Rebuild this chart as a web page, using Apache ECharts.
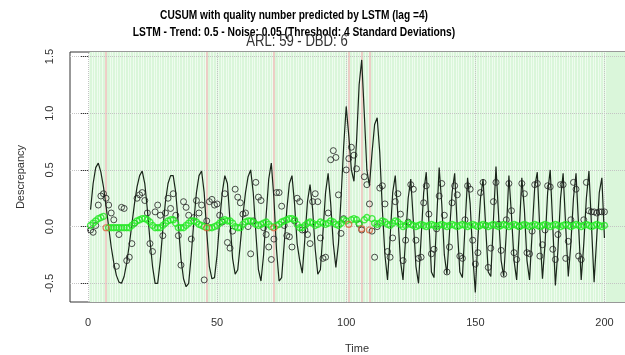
<!DOCTYPE html>
<html><head><meta charset="utf-8">
<script src="https://cdn.jsdelivr.net/npm/echarts@6/dist/echarts.min.js"></script>
<style>html,body{margin:0;padding:0;background:#fff}#c{width:625px;height:355px}</style>
</head><body><div id="c"></div>
<script>
// time index 1..200
const time = [];
for (let i = 1; i <= 200; i++) time.push(i);

// LSTM predicted discrepancy (black line)
const lstmLine = [
 0.15,0.38,0.52,0.56,0.48,0.35,0.18,0.00,-0.18,-0.32,
 -0.43,-0.49,-0.50,-0.44,-0.32,-0.16,0.02,0.20,0.35,0.45,
 0.49,0.38,0.15,-0.12,-0.35,-0.50,-0.50,-0.30,-0.02,0.22,
 0.38,0.45,0.45,0.30,0.02,-0.28,-0.46,-0.53,-0.50,-0.25,
 0.05,0.30,0.45,0.49,0.30,-0.05,-0.35,-0.46,-0.45,-0.25,
 0.05,0.30,0.45,0.38,0.05,-0.28,-0.42,-0.38,-0.15,0.10,
 0.30,0.44,0.50,0.30,-0.05,-0.38,-0.48,-0.25,0.10,0.42,
 0.56,0.25,-0.20,-0.48,-0.45,-0.15,0.15,0.38,0.45,0.20,
 -0.15,-0.30,-0.41,-0.10,0.22,0.37,0.15,-0.20,-0.42,-0.38,
 -0.05,0.30,0.47,0.20,-0.15,-0.36,-0.15,0.25,0.70,1.06,
 0.80,0.50,0.40,0.75,1.25,1.47,1.00,0.50,0.36,0.65,
 0.90,0.96,0.65,0.15,-0.25,-0.47,-0.10,0.30,0.45,0.10,
 -0.30,-0.47,-0.10,0.25,0.42,0.05,-0.35,-0.50,-0.10,0.30,
 0.48,0.05,-0.40,-0.45,0.05,0.52,0.20,-0.25,-0.42,-0.05,
 0.30,0.47,0.00,-0.40,-0.45,0.00,0.43,0.20,-0.25,-0.58,
 -0.10,0.25,0.42,0.00,-0.40,-0.44,0.05,0.53,0.10,-0.30,
 -0.44,-0.05,0.45,0.10,-0.30,-0.47,-0.05,0.43,0.15,-0.30,
 -0.47,-0.05,0.35,0.48,-0.05,-0.46,-0.15,0.30,0.50,0.00,
 -0.52,-0.20,0.25,0.47,0.00,-0.44,-0.15,0.25,0.47,0.00,
 -0.47,-0.15,0.25,0.49,0.00,-0.49,-0.10,0.30,0.43,-0.10
];

// observed quality discrepancy (black open circles)
const observed = [
 -0.03,-0.05,0.01,0.19,0.27,0.29,0.25,0.19,0.12,0.06,
 -0.35,-0.07,0.17,0.16,-0.30,-0.27,-0.15,0.03,0.25,0.28,
 0.30,0.23,0.12,-0.15,-0.22,0.13,0.19,0.10,-0.08,0.12,
 0.25,0.16,0.29,0.10,-0.08,-0.34,0.22,0.17,0.10,-0.11,
 0.08,0.23,0.12,0.19,-0.47,0.05,0.22,0.24,0.19,0.20,
 0.10,0.04,0.29,-0.14,-0.19,-0.04,0.33,0.26,0.21,0.11,
 0.12,0.00,-0.24,0.05,0.39,0.26,0.23,-0.01,-0.07,-0.18,
 -0.29,-0.11,0.30,0.30,0.18,0.01,-0.08,-0.09,-0.18,0.05,
 0.25,0.22,-0.03,-0.03,-0.07,-0.15,0.22,0.29,0.22,-0.10,
 -0.28,-0.27,0.12,0.59,0.67,0.61,0.28,-0.06,0.07,0.50,
 0.60,0.70,0.63,0.51,0.02,-0.03,0.44,0.37,0.20,-0.04,
 -0.27,0.00,0.34,0.36,0.20,-0.22,-0.27,-0.10,0.22,0.29,
 0.11,-0.30,-0.12,0.04,0.37,0.33,-0.12,-0.28,-0.27,0.21,
 0.36,0.11,-0.24,-0.20,-0.02,0.27,0.38,0.10,-0.40,-0.18,
 0.21,0.36,0.28,-0.26,-0.28,0.06,0.36,0.33,-0.12,-0.33,
 -0.23,0.30,0.39,0.01,-0.36,-0.19,0.22,0.39,0.02,-0.21,
 -0.42,0.06,0.38,0.14,-0.23,-0.29,0.00,0.38,0.29,-0.23,
 -0.24,-0.04,0.37,0.38,-0.26,-0.16,-0.03,0.36,0.35,-0.20,
 -0.29,-0.07,0.37,0.37,-0.28,-0.13,0.06,0.39,0.33,-0.26,
 -0.29,0.06,0.39,0.14,0.13,0.13,0.12,0.13,0.13,0.13
];

// CUSUM statistic, no alarm (green circles)
const cusumOk = [
 0.01,0.03,0.05,0.07,0.08,0.09,null,-0.01,-0.01,-0.01,
 -0.01,-0.01,-0.01,-0.01,-0.01,-0.01,0.01,0.03,0.05,0.06,
 0.07,0.07,0.06,0.04,0.01,-0.01,-0.01,-0.01,0.01,0.03,
 0.05,0.06,0.06,0.03,-0.01,-0.01,-0.01,0.01,0.03,0.05,
 0.05,0.04,0.02,0.01,0.00,null,-0.01,-0.01,0.00,0.01,
 0.03,0.05,0.06,0.05,0.05,0.03,0.00,-0.01,-0.01,0.02,
 0.04,0.05,0.05,0.04,0.02,0.01,0.02,0.03,0.04,0.02,
 0.00,null,0.01,0.02,0.04,0.05,0.06,0.07,0.07,0.06,
 0.02,-0.01,-0.01,0.01,0.03,0.04,0.03,0.01,0.02,0.04,
 0.03,0.02,0.03,0.05,0.04,0.02,0.01,0.03,0.06,0.05,
 null,0.06,0.07,0.06,0.03,null,0.06,0.08,null,0.07,
 0.03,0.02,0.03,0.05,0.04,0.02,0.01,0.03,0.05,0.04,
 0.02,0.00,0.01,0.03,0.02,0.01,0.00,0.01,0.02,0.01,
 0.00,0.01,0.02,0.01,0.00,0.01,0.02,0.01,0.00,0.01,
 0.02,0.01,0.00,0.01,0.02,0.01,0.00,0.01,0.02,0.01,
 0.00,0.01,0.02,0.01,0.00,0.01,0.02,0.01,0.00,0.01,
 0.02,0.01,0.00,0.01,0.02,0.01,0.00,0.01,0.02,0.01,
 0.00,0.01,0.02,0.01,0.00,0.01,0.02,0.01,0.00,0.01,
 0.02,0.01,0.00,0.01,0.02,0.01,0.00,0.01,0.02,0.01,
 0.00,0.01,0.02,0.01,0.00,0.01,0.02,0.01,0.00,0.01
];

// alarms (red lines / red circles)
const alarmTimes = [7, 46, 72, 101, 106, 109];
const alarmValues = [-0.01, -0.01, -0.01, 0.02, -0.02, -0.03];

const xTicks = [0, 50, 100, 150, 200];
const yTicks = [-0.5, 0, 0.5, 1, 1.5];

const titleLine1 = 'CUSUM with quality number predicted by LSTM (lag =4)';
const titleLine2 = 'LSTM - Trend: 0.5 - Noise: 0.05 (Threshold: 4 Standard Deviations)';
const titleLine3 = 'ARL: 59 - DBD: 6';

const chart = echarts.init(document.getElementById('c'), null, {renderer: 'canvas'});

const okTimes = time.filter(t => alarmTimes.indexOf(t) < 0);
const FONT = 'Liberation Sans, Arial, sans-serif';

const option = {
  animation: false,
  backgroundColor: '#ffffff',
  grid: {left: 70, top: 52, width: 571, height: 250, show: true, borderColor: '#333', borderWidth: 1, backgroundColor: 'transparent'},
  xAxis: {
    type: 'value', min: -6.96, max: 207.96,
    axisLine: {show: false}, splitLine: {show: false},
    axisTick: {show: true, customValues: xTicks, length: 6, lineStyle: {color: '#333'}},
    axisLabel: {customValues: xTicks, margin: 15, fontSize: 11, color: '#333', fontFamily: FONT}
  },
  yAxis: {
    type: 'value', min: -0.665, max: 1.54,
    axisLine: {show: false}, splitLine: {show: false},
    axisTick: {show: true, customValues: yTicks, length: 7, lineStyle: {color: '#333'}},
    axisLabel: {customValues: yTicks, rotate: 90, margin: 15, fontSize: 11, color: '#333',
      fontFamily: FONT, formatter: v => Number(v).toFixed(1)}
  },
  graphic: [
    {type: 'text', x: 294, y: 15, scaleX: 0.78, z: 100, style: {text: titleLine1, fontFamily: FONT, fontWeight: 'bold', fontSize: 13, fill: '#000', align: 'center', verticalAlign: 'middle'}},
    {type: 'text', x: 294, y: 32, scaleX: 0.79, z: 100, style: {text: titleLine2, fontFamily: FONT, fontWeight: 'bold', fontSize: 13, fill: '#000', align: 'center', verticalAlign: 'middle'}},
    {type: 'text', x: 297, y: 42, scaleX: 0.82, z: 100, style: {text: titleLine3, fontFamily: FONT, fontSize: 16, fill: '#333', align: 'center', verticalAlign: 'middle'}},
    {type: 'text', x: 357, y: 349, style: {text: 'Time', fontFamily: FONT, fontSize: 11, fill: '#333', align: 'center', verticalAlign: 'middle'}},
    {type: 'text', x: 21, y: 177, rotation: Math.PI / 2, style: {text: 'Descrepancy', fontFamily: FONT, fontSize: 11, fill: '#333', align: 'center', verticalAlign: 'middle'}}
  ],
  series: [
    {
      type: 'line', data: [], z: 1, silent: true,
      markArea: {z: 1, silent: true, itemStyle: {color: '#daf6da'}, data: [[{xAxis: 0.6}, {xAxis: 210}]]},
      markLine: {z: 1, silent: true, symbol: ['none', 'none'], label: {show: false},
        lineStyle: {color: '#eefcee', width: 1, type: 'solid'},
        data: okTimes.map(t => ({xAxis: t + 0.5}))}
    },
    {
      type: 'line', data: [], z: 2, silent: true,
      markLine: {z: 2, silent: true, symbol: ['none', 'none'], label: {show: false},
        lineStyle: {color: '#f0c4c0', width: 1.6, type: 'solid'},
        data: alarmTimes.map(t => ({xAxis: t}))}
    },
    {
      type: 'line', data: [], z: 2, silent: true,
      markLine: {z: 2, silent: true, symbol: ['none', 'none'], label: {show: false},
        lineStyle: {color: '#c4c4c4', width: 1, type: 'dotted'},
        data: xTicks.map(v => ({xAxis: v})).concat(yTicks.map(v => ({yAxis: v})))}
    },
    {
      type: 'line', z: 10, showSymbol: false, silent: true,
      lineStyle: {color: '#1a261a', width: 1.2},
      data: time.map((t, i) => [t, lstmLine[i]])
    },
    {
      type: 'scatter', z: 11, symbol: 'circle', symbolSize: 6, silent: true,
      itemStyle: {color: 'rgba(0,0,0,0)', borderColor: '#222', borderWidth: 1},
      data: time.map((t, i) => [t, observed[i]])
    },
    {
      type: 'scatter', z: 12, symbol: 'circle', symbolSize: 6, silent: true,
      itemStyle: {color: 'rgba(0,0,0,0)', borderColor: '#22e822', borderWidth: 1.4},
      data: time.map((t, i) => [t, cusumOk[i]]).filter(d => d[1] !== null)
    },
    {
      type: 'scatter', z: 13, symbol: 'circle', symbolSize: 6, silent: true,
      itemStyle: {color: 'rgba(0,0,0,0)', borderColor: '#d8603a', borderWidth: 1.2},
      data: alarmTimes.map((t, i) => [t, alarmValues[i]])
    }
  ]
};
chart.setOption(option);
</script>
</body></html>
